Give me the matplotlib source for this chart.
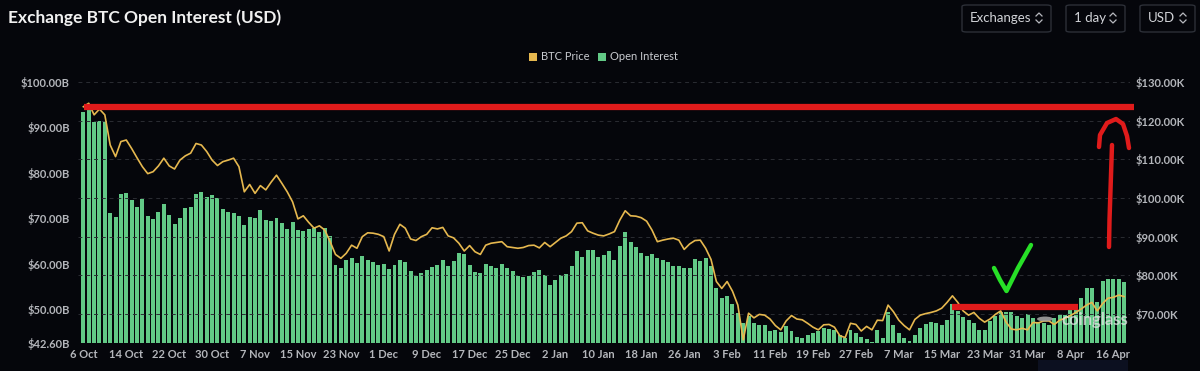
import numpy as np
import pandas as pd
import matplotlib
matplotlib.use('Agg')
import matplotlib.pyplot as plt
from matplotlib.patches import FancyBboxPatch, Rectangle, Circle
from matplotlib.lines import Line2D

# daily values, 6 Oct -> 18 Apr
open_interest = [
    93.3, 94.2, 91.1, 91.5, 91.4, 71.1, 70.4, 75.4, 75.6, 74.0,
    72.4, 74.3, 70.5, 69.8, 71.5, 73.1, 70.7, 68.8, 70.2, 72.3,
    72.6, 75.4, 75.9, 74.6, 75.2, 74.5, 72.0, 71.4, 71.3, 70.6,
    68.5, 70.4, 70.0, 71.9, 69.6, 69.4, 70.0, 69.0, 67.7, 69.3,
    67.4, 67.3, 67.7, 67.8, 67.0, 67.9, 66.1, 59.7, 59.0, 60.8,
    61.4, 60.1, 61.8, 60.8, 60.5, 59.7, 60.0, 58.8, 59.8, 60.9,
    60.4, 58.4, 57.3, 58.1, 58.6, 59.4, 59.8, 60.8, 59.6, 60.7,
    62.3, 62.1, 59.8, 58.2, 57.9, 60.0, 59.5, 59.0, 60.0, 59.2,
    58.4, 57.3, 57.2, 57.4, 58.3, 58.6, 57.5, 55.3, 56.4, 57.5,
    57.7, 59.5, 62.9, 61.5, 63.0, 63.0, 61.6, 61.9, 62.8, 60.8,
    63.9, 67.1, 64.9, 63.8, 62.4, 61.7, 62.2, 61.2, 60.9, 60.4,
    59.5, 59.6, 59.1, 59.1, 61.1, 60.7, 61.4, 59.6, 54.7, 52.6,
    53.0, 51.2, 49.1, 47.1, 48.5, 47.0, 46.5, 46.5, 45.2, 45.5,
    45.0, 46.4, 45.2, 43.9, 43.8, 44.4, 44.7, 45.2, 46.0, 45.7,
    45.5, 44.4, 43.8, 45.5, 44.7, 43.9, 43.5, 42.9, 45.4, 43.8,
    49.5, 46.6, 44.9, 43.6, 43.0, 44.4, 45.9, 46.8, 47.3, 47.1,
    46.5, 47.7, 51.1, 49.6, 48.4, 47.7, 47.1, 45.5, 45.5, 47.4,
    48.5, 49.5, 49.5, 49.4, 48.6, 48.2, 49.0, 48.0, 47.3, 46.9,
    46.6, 48.0, 48.8, 48.8, 49.9, 50.1, 52.4, 54.8, 54.6, 51.7,
    56.2, 56.6, 56.6, 56.6, 56.0,
]

btc_price = [
    123.6, 124.5, 121.5, 123.0, 121.5, 113.7, 110.7, 114.6, 115.0, 112.8,
    110.4, 108.1, 106.3, 106.8, 108.3, 110.3, 108.3, 107.5, 109.8, 110.9,
    111.6, 114.1, 113.7, 112.0, 109.8, 108.4, 109.4, 109.8, 110.3, 108.1,
    101.6, 103.5, 101.2, 103.2, 102.1, 104.1, 105.9, 103.8, 101.6, 99.0,
    94.6, 95.4, 93.7, 92.2, 92.8, 91.7, 88.7, 85.4, 84.4, 85.7,
    87.8, 87.0, 90.0, 91.0, 90.9, 90.6, 90.0, 86.3, 90.6, 93.2,
    92.2, 89.4, 89.0, 90.0, 90.6, 92.3, 92.0, 92.4, 90.2, 89.7,
    88.3, 86.3, 87.7, 86.1, 85.4, 87.8, 88.3, 88.5, 88.7, 87.4,
    87.2, 87.0, 87.2, 87.7, 87.8, 87.1, 88.5, 87.4, 88.5, 89.6,
    90.2, 91.3, 93.5, 93.6, 91.5, 90.9, 90.4, 90.2, 90.7, 91.3,
    94.3, 96.7, 95.4, 95.3, 94.9, 94.0, 91.7, 88.7, 89.1, 89.4,
    89.6, 89.1, 86.7, 88.1, 89.0, 89.1, 87.0, 84.1, 78.4, 76.6,
    78.4, 75.9, 72.3, 63.3, 70.2, 69.0, 69.9, 69.7, 68.7, 67.0,
    65.9, 68.2, 69.6, 68.7, 68.5, 67.6, 66.6, 65.9, 67.2, 67.3,
    66.6, 64.4, 63.9, 67.6, 67.3, 65.6, 66.8, 65.9, 68.4, 68.3,
    72.3, 70.6, 68.4, 67.0, 65.9, 68.6, 69.7, 70.1, 70.4, 70.8,
    71.5, 73.0, 74.7, 73.0, 70.8, 69.7, 70.4, 68.9, 67.9, 68.7,
    69.9, 70.8, 67.9, 66.1, 65.9, 66.3, 65.9, 67.8, 67.7, 68.2,
    68.2, 67.3, 68.4, 68.9, 69.6, 70.4, 71.3, 72.3, 73.0, 70.8,
    72.7, 74.1, 74.3, 74.9, 74.5,
]

start_date = '2025-10-06'
left_ticks = [42.6, 50, 60, 70, 80, 90, 100]
right_ticks = [70, 80, 90, 100, 110, 120, 130]
ath_level = 123.6      # red line (price axis)
support_level = 71.85  # short red line (price axis)

BG = '#05060b'
GREEN = '#62c986'
GOLD = '#e6b84f'
TXT = '#b4b6bb'
FONT = 'Lato'
W, H = 1200, 371

dates = pd.date_range(start_date, periods=len(open_interest), freq='D')
x = np.arange(len(dates))

fig = plt.figure(figsize=(12, 3.71), dpi=100, facecolor=BG)

def px(xp, yp):
    return xp / W, 1 - yp / H

ax = fig.add_axes([78 / W, 1 - 343 / H, 1052 / W, 261 / H])
ax.set_facecolor(BG)
axp = ax.twinx()

ax.bar(x, np.array(open_interest) - left_ticks[0], bottom=left_ticks[0],
       width=0.74, color=GREEN, zorder=2)
axp.plot(x, btc_price, color=GOLD, lw=1.2, zorder=3)

ax.set_xlim(-1, len(x) + 0.1)
ax.set_ylim(left_ticks[0], left_ticks[-1])
axp.set_ylim(62.5, 130)

ax.set_yticks(left_ticks)
ax.set_yticklabels([f'${v:.2f}B' for v in left_ticks])
axp.set_yticks(right_ticks)
axp.set_yticklabels([f'${v:.2f}K' for v in right_ticks])
ax.set_xticks(x[::8])
ax.set_xticklabels([f'{d.day} {d.strftime("%b")}' for d in dates[::8]])

for a in (ax, axp):
    for s in a.spines.values():
        s.set_visible(False)
    a.tick_params(length=0, colors=TXT, labelsize=8)
    for lab in a.get_yticklabels() + a.get_xticklabels():
        lab.set_fontweight('bold')
        lab.set_fontfamily(FONT)
ax.tick_params(axis='y', pad=6)
axp.tick_params(axis='y', pad=4)
ax.tick_params(axis='x', pad=4)
axp.grid(axis='y', color='#2b2d33', lw=0.7, ls=(0, (4, 4)), zorder=0)
axp.set_axisbelow(True)
ax.set_zorder(1)
axp.set_zorder(2)
axp.patch.set_visible(False)

# title
fig.text(8 / W, 1 - 18 / H, 'Exchange BTC Open Interest (USD)', color='#f0f0f0',
         fontsize=12.5, fontweight='bold', family=FONT, va='center')

# top-right selectors
for label, x0, x1 in [('Exchanges', 962, 1051), ('1 day', 1066, 1125), ('USD', 1140, 1195)]:
    bx, by = px(x0, 32)
    box = FancyBboxPatch((bx, by), (x1 - x0) / W, 27 / H,
                         boxstyle='round,pad=0,rounding_size=0.004',
                         transform=fig.transFigure, fc='none', ec='#2c2f37', lw=1)
    fig.patches.append(box)
    fig.text((x0 + 8) / W, 1 - 18 / H, label, color='#d2d4d8', fontsize=9.5,
             family=FONT, va='center')
    cx = x1 - 12
    for sgn in (-1, 1):
        xs = [cx - 3, cx, cx + 3]
        ys = [18 + sgn * 2, 18 + sgn * 5, 18 + sgn * 2]
        fig.lines.append(Line2D([v / W for v in xs], [1 - v / H for v in ys],
                                transform=fig.transFigure, color='#b8bac0', lw=0.9))

# legend
for (lx, col, name) in [(529, GOLD, 'BTC Price'), (598, GREEN, 'Open Interest')]:
    rx, ry = px(lx, 61)
    fig.patches.append(Rectangle((rx, ry), 8 / W, 8 / H, transform=fig.transFigure,
                                 fc=col, ec='none'))
    fig.text((lx + 12) / W, 1 - 57 / H, name, color='#c9cbd0', fontsize=8,
             family=FONT, va='center')

# watermark
fig.patches.append(Circle(px(1045, 319), 8 / W, transform=fig.transFigure,
                          fc='#a0a0a0', ec='none', alpha=0.9, zorder=5))
fig.text(1061 / W, 1 - 320 / H, 'coinglass', color='#e6e6e6', alpha=0.75,
         fontsize=12, fontweight='bold', family=FONT, va='center', zorder=5)
fig.patches.append(Rectangle(px(1038, 371), 90 / W, 11 / H, transform=fig.transFigure,
                             fc='#0c1020', ec='none'))

# hand-drawn annotations
axp.plot([0.006, 1.004], [ath_level, ath_level], transform=axp.get_yaxis_transform(),
         color='#e01b1b', lw=4.5, clip_on=False, zorder=6, solid_capstyle='butt')
axp.plot([(951.7 - 78) / 1052, (1078 - 78) / 1052], [support_level, support_level],
         transform=axp.get_yaxis_transform(), color='#e01b1b', lw=4.5,
         clip_on=False, zorder=6, solid_capstyle='butt')

def stroke(points, color, lw):
    xs = [p[0] / W for p in points]
    ys = [1 - p[1] / H for p in points]
    fig.lines.append(Line2D(xs, ys, transform=fig.transFigure, color=color, lw=lw,
                            solid_capstyle='round', solid_joinstyle='round', zorder=7))

stroke([(1109, 247), (1109.5, 220), (1110.5, 190), (1111.5, 160), (1112, 145)], '#e01b1b', 3.2)
stroke([(1099, 147), (1100, 135), (1107, 123), (1116, 119), (1123, 124), (1127, 136),
        (1129, 148)], '#e01b1b', 3.2)
stroke([(994, 268), (1000, 280), (1006.5, 291), (1018, 268), (1031, 245)], '#27e027', 3.2)

fig.savefig('out.png', dpi=100, facecolor=BG)
